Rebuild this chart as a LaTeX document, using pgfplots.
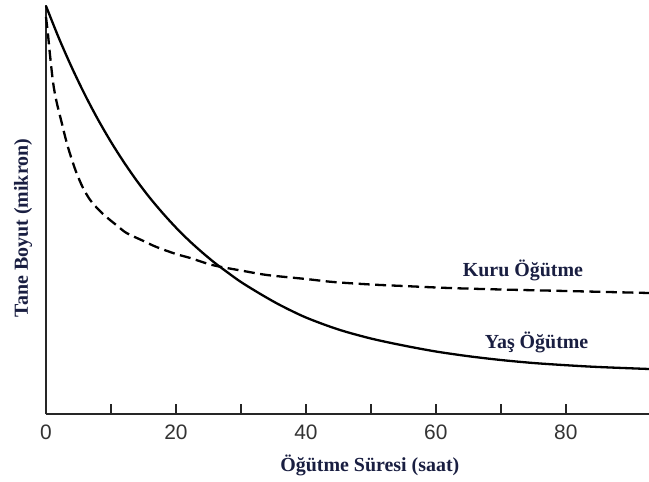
\documentclass[border=0pt]{standalone}
\usepackage{fontspec}
\setmainfont{Liberation Serif}
\setsansfont{Liberation Sans}
\usepackage{pgfplots}
\pgfplotsset{compat=1.18}
\definecolor{navy}{RGB}{25,30,65}
\begin{document}
\begin{tikzpicture}
\path[use as bounding box] (0,0) rectangle (649bp,482bp);
\begin{axis}[
  at={(46bp,68bp)}, anchor=south west,
  scale only axis, width=603bp, height=409bp,
  xmin=0, xmax=92.8, ymin=0, ymax=409,
  axis x line=bottom, axis y line=left,
  axis line style={-, line width=1.6bp, black!85},
  xtick={0,10,...,80}, xticklabels={0,,20,,40,,60,,80},
  ytick=\empty,
  tick align=inside, major tick length=10bp,
  tick style={line width=1.4bp, black!85},
  xticklabel style={font=\fontsize{21}{24}\selectfont\sffamily, text=black!80, yshift=-7bp},
  /pgf/number format/assume math mode=true,
  xlabel={Öğütme Süresi (saat)},
  ylabel={Tane Boyut (mikron)},
  label style={font=\fontsize{20}{22}\selectfont\bfseries, text=navy},
  xlabel style={at={(axis description cs:0.537,-0.1247)}, anchor=center},
  ylabel style={at={(axis description cs:-0.038,0.455)}, anchor=center},
  clip=false,
]
% Yas Ogutme (solid)
\addplot[black, line width=2.3bp, smooth] coordinates {
(0,408) (2,375.6) (4,346.1) (6,319.1) (8,294.5) (10,272.1) (12,251.7) (14,233.0)
(16,216.0) (18,200.6) (20,186.4) (22,173.5) (24,161.8) (26,151.0) (28,141.3)
(30,132.0) (33,120.0) (36,109.0) (40,96.5) (45,84.5) (50,75.5) (55,68.5) (60,62.5)
(65,57.8) (70,54) (75,51) (80,48.8) (85,47) (92.8,45)
};
% Kuru Ogutme (dashed)
\addplot[black, line width=2.3bp, smooth, dash pattern=on 11bp off 5.5bp] coordinates {
(0,397) (0.3,380) (0.6,360) (1.1,331) (1.6,313) (2.2,297) (3.2,271) (4,254)
(4.7,241) (5.7,226) (6.8,214) (8,205) (9.3,197) (11,188) (12.4,181) (15,173)
(17,167) (20,160) (22.2,156) (25,150) (27,147) (30,143.5) (34,139) (40,135)
(44.2,132) (50,129.5) (55,128) (62,126) (70,124.5) (80,123) (92.8,121)
};
\node[font=\fontsize{20}{22}\selectfont\bfseries, text=navy] at (axis cs:73.4,144) {Kuru Öğütme};
\node[font=\fontsize{20}{22}\selectfont\bfseries, text=navy] at (axis cs:75.5,72) {Yaş Öğütme};
\end{axis}
\end{tikzpicture}
\end{document}
